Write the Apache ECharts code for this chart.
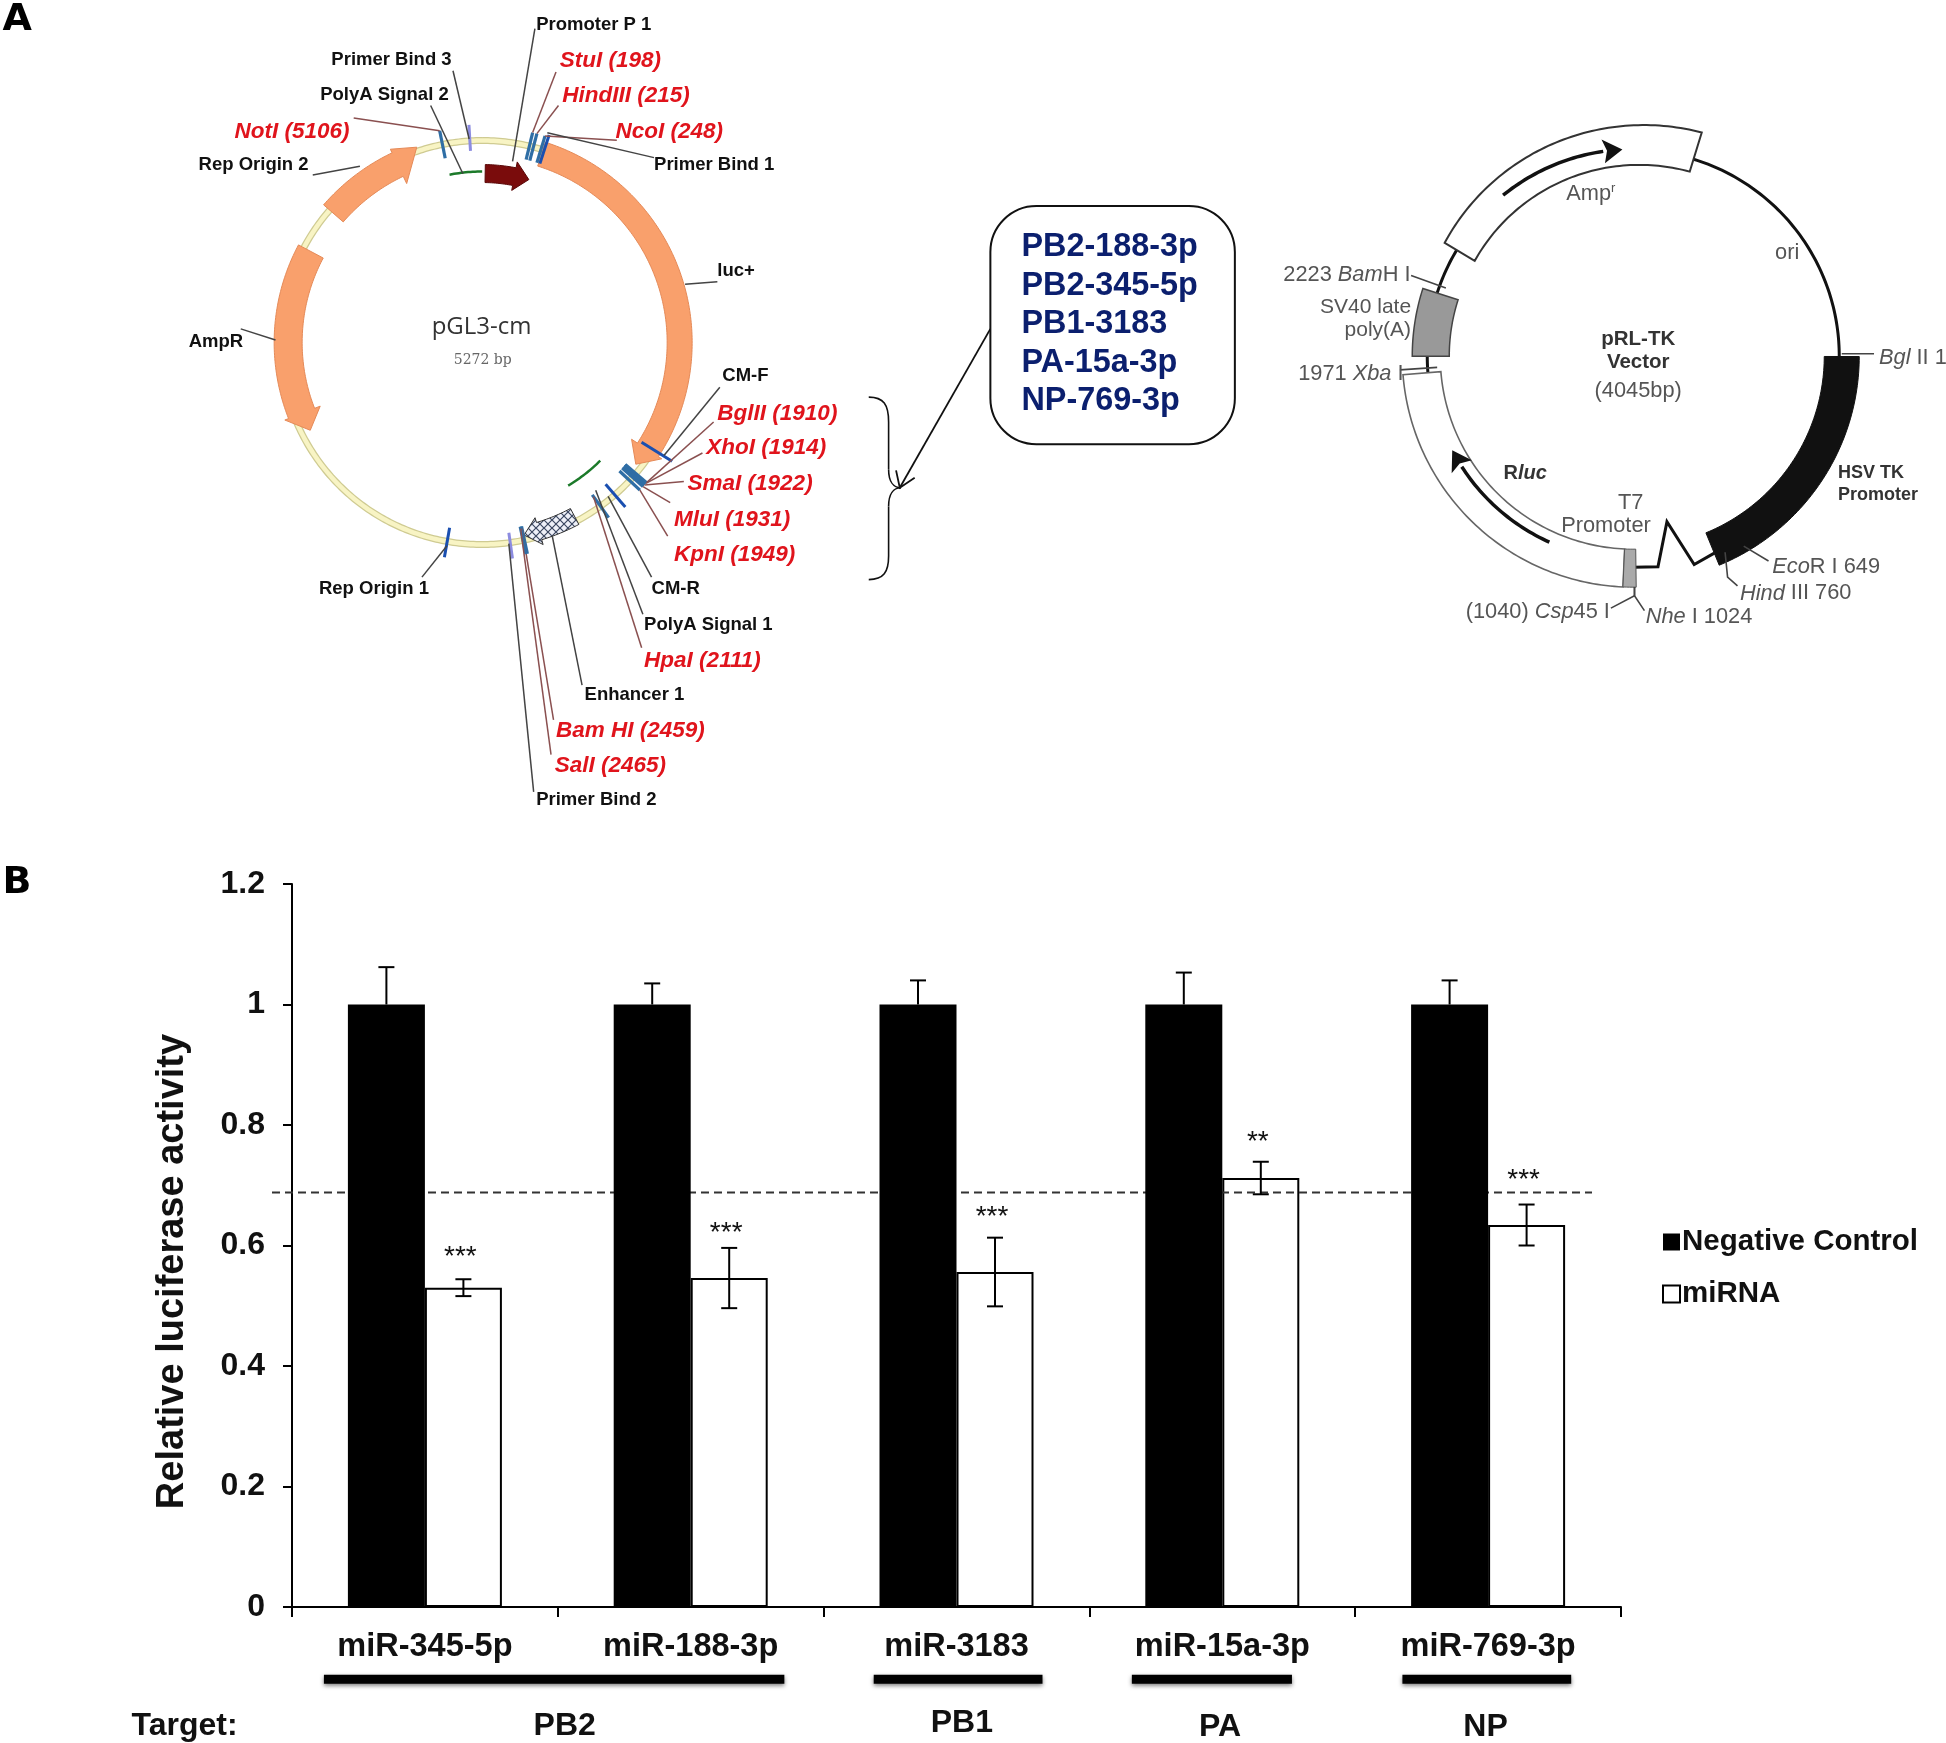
<!DOCTYPE html>
<html><head><meta charset="utf-8">
<script src="https://cdn.jsdelivr.net/npm/echarts@6/dist/echarts.min.js"></script>
<style>html,body{margin:0;background:#fff}#c{width:1946px;height:1743px}</style></head>
<body><div id="c"></div>
<script>
// ---------- Panel B data ----------
const miRNAs = ['miR-345-5p','miR-188-3p','miR-3183','miR-15a-3p','miR-769-3p'];
const controlValues = [1,1,1,1,1];
const controlErrors = [0.062,0.035,0.04,0.053,0.04];
const miRNAValues = [0.53,0.546,0.556,0.712,0.634];
const miRNAErrors = [0.014,0.05,0.057,0.027,0.034];
const significance = ['***','***','***','**','***'];
const significanceLevels = [0.591,0.63,0.657,0.782,0.718];
const thresholdValue = [0.688];
const yTicks = {min:0,max:1.2,interval:0.2};
const targets = ['PB2','PB1','PA','NP'];
// ---------- Panel A data (base pairs) ----------
const pGL3Length = 5272;
const enzymes = ['StuI','HindIII','NcoI','NotI','BglII','XhoI','SmaI','MluI','KpnI','HpaI','BamHI','SalI'];
const enzymeSites = [198,215,248,5106,1910,1914,1922,1931,1949,2111,2459,2465];
const pGL3Ticks = [5221,262,1787,2035,2519,2782];
const lucRange = [256,1800,1880];
const ampRRange = [4364,3640,3558];
const repOri2Range = [4554,4900,5001];
const enhancerRange = [2226,2390,2456];
const promoterRange = [15,161,234];
const greenArcs = [[5111,5272],[1977,2182]];
const pRLLength = 4045;
const pRLHsv = [1,760];
const pRLRluc = [1040,1971];
const pRLSv40 = [2022,2223];
const pRLAmp = [2371,3225];
const pRLBackbone = [[2223,2371],[3225,4045],[1971,2022]];
const pRLLinker = [[213,760],[217,828],[169,882],[212,936],[211,1010]];
const pRLT7 = [1003,1040];
const pRLRlucArrow = [1284,1714];
const pRLAmpArrow = [2596,3000];

// ---------- layout (pixels of the shrunk reference, scaled by p) ----------
const p = v => v*1946/1568;
const FONT = '"Liberation Sans",Arial,sans-serif';
const siteLayout = [
 [451,48,448,58],[453,76,450,85],[496,105,497,113],[189,105,285,95],
 [578,332,575,340],[569,360,566,365],[554,389,551,388],[543,418,540,405],[543,446,538,432],
 [519,531,517,522],[448,588,446,580],[447,616,444,608]];
const siteLabels = ['StuI (198)','HindIII (215)','NcoI (248)','NotI (5106)','BglII (1910)','XhoI (1914)','SmaI (1922)','MluI (1931)','KpnI (1949)','HpaI (2111)','Bam HI (2459)','SalI (2465)'];
const blackLabels = [['Promoter P 1',432,19],['Primer Bind 3',267,47],['PolyA Signal 2',258,75],['Rep Origin 2',160,132],['Primer Bind 1',527,132],['luc+',578,217],['AmpR',152,274],['CM-F',582,302],['CM-R',525,473],['PolyA Signal 1',519,502],['Enhancer 1',471,559],['Primer Bind 2',432,643],['Rep Origin 1',257,473]];
const leaders = [[431,23,413,130],[365,57,378,112],[347,85,373,140],[252,141,290,134],[527,127,441,107],[578,227,552,229],[194,265,222,274],[580,312,535,367],[525,465,490,400],[518,495,480,395],[469,552,445,432],[430,638,410,438],[340,465,360,440]];
const rightLeaders = [[[1137,222],[1165,232]],[[1484,285],[1510,285]],[[1405,440],[1425,452]],[[1390,445],[1392,465],[1400,472]],[[1317,473],[1317,480],[1325,492]],[[1317,473],[1317,480],[1298,490]],[[1128,298],[1158,296]]];
const boxLines = ['PB2-188-3p','PB2-345-5p','PB1-3183','PA-15a-3p','NP-769-3p'];
const boxY = [198,229,260,291,322];
const targetBars = [[261,632],[704,840],[912,1041],[1130,1266]];
const targetX = [455,775,983,1197];
const targetY = [1388,1386,1389,1389];

const g = [];
function T(text,x,y,o){o=o||{};g.push({type:'text',z:50,style:Object.assign({text,x:p(x),y:p(y)+1.5,fill:o.fill||'#000',font:o.font||('bold 18px '+FONT),align:o.align||'left',verticalAlign:'middle'},o.rich?{rich:o.rich}:{})});}
function L(pts,o){o=o||{};g.push({type:'polyline',z:o.z||40,shape:{points:pts.map(q=>[p(q[0]),p(q[1])])},style:{stroke:o.stroke||'#555',lineWidth:o.w||1.5,fill:null}});}
function C(a,b,c,d){g.push({type:'bezierCurve',z:40,shape:{x1:p(a[0]),y1:p(a[1]),cpx1:p(b[0]),cpy1:p(b[1]),cpx2:p(c[0]),cpy2:p(c[1]),x2:p(d[0]),y2:p(d[1])},style:{stroke:'#111',lineWidth:1.6,fill:null}});}

T('A',2,15,{font:'bold 38px "DejaVu Sans"'});
T('B',2,710,{font:'bold 38px "DejaVu Sans"'});
blackLabels.forEach(a=>T(a[0],a[1],a[2],{fill:'#111',font:'bold 18.5px '+FONT}));
leaders.forEach(a=>L([[a[0],a[1]],[a[2],a[3]]],{stroke:'#444'}));
siteLabels.forEach((s,i)=>T(s,siteLayout[i][0],siteLayout[i][1],{fill:'#e0141c',font:'italic bold 22.5px '+FONT}));
T('pGL3-cm',388,262,{align:'center',fill:'#333',font:'24px "Open Sans"'});
T('5272 bp',389,289,{align:'center',fill:'#666',font:'14px "DejaVu Serif"'});
// brace, callout and box
C([700,320],[712,320],[716,326],[716,340]);
L([[716,340],[716,378]],{stroke:'#111',w:1.6});
C([716,378],[716,388],[720,393],[726,393]);
C([726,393],[720,393],[716,398],[716,408]);
L([[716,408],[716,448]],{stroke:'#111',w:1.6});
C([716,448],[716,461],[712,467],[700,467]);
L([[798,265],[725,393]],{stroke:'#111',w:1.8});
L([[722,379],[725,393],[737,385]],{stroke:'#111',w:1.8});
g.push({type:'rect',z:40,shape:{x:p(798),y:p(166),width:p(197),height:p(192),r:46},style:{stroke:'#111',lineWidth:2,fill:'#fff'}});
boxLines.forEach((s,i)=>T(s,823,boxY[i],{fill:'#0b1f6e',font:'bold 32.4px '+FONT}));
// right plasmid text
const GR='#555', rn='21.8px '+FONT, it='italic 21.8px '+FONT;
const rr={i:{font:it,fill:GR},n:{font:rn,fill:GR}};
T('{n|2223 }{i|Bam}{n|H I}',1034,220,{rich:rr});
T('SV40 late',1137,246,{align:'right',fill:GR,font:'21px '+FONT});
T('poly(A)',1137,265,{align:'right',fill:GR,font:'21px '+FONT});
T('{n|1971 }{i|Xba}{n| I}',1046,300,{rich:rr});
T('{n|Amp}{s|r}',1262,155,{rich:{n:{font:rn,fill:GR},s:{font:'13px '+FONT,fill:GR,padding:[0,0,10,0]}}});
T('ori',1440,203,{align:'center',fill:GR,font:rn});
T('pRL-TK',1320,272,{align:'center',fill:'#333',font:'bold 20.5px '+FONT});
T('Vector',1320,291,{align:'center',fill:'#333',font:'bold 20.5px '+FONT});
T('(4045bp)',1320,314,{align:'center',fill:GR,font:rn});
T('{i|Bgl}{n| II 1}',1514,287,{rich:rr});
T('HSV TK',1481,380,{fill:'#333',font:'bold 18px '+FONT});
T('Promoter',1481,398,{fill:'#333',font:'bold 18px '+FONT});
T('{i|Eco}{n|R I 649}',1428,456,{rich:rr});
T('{i|Hind}{n| III 760}',1402,477,{rich:rr});
T('{i|Nhe}{n| I 1024}',1326,496,{rich:rr});
T('{n|(1040) }{i|Csp}{n|45 I}',1181,492,{rich:rr});
T('T7',1314,404,{align:'center',fill:GR,font:rn});
T('Promoter',1294,423,{align:'center',fill:GR,font:rn});
T('{b|R}{c|luc}',1229,380,{align:'center',rich:{b:{font:'bold 20px '+FONT,fill:'#333'},c:{font:'italic bold 20px '+FONT,fill:'#333'}}});
rightLeaders.forEach(a=>L(a,{stroke:'#444',w:1.6}));
// panel B annotations
const B='bold 32px '+FONT;
T('Target:',106,1389.5,{font:B,fill:'#111'});
targets.forEach((s,i)=>T(s,targetX[i],targetY[i]+1.5,{align:'center',font:B,fill:'#111'}));
targetBars.forEach(a=>g.push({type:'rect',z:40,shape:{x:p(a[0]),y:p(1349.5),width:p(a[1]-a[0]),height:9},style:{fill:'#000',shadowBlur:4,shadowColor:'rgba(0,0,0,.5)',shadowOffsetY:2}}));

// ---------- polar helpers ----------
function arc(api,r,a0,a1,r1){const n=Math.max(2,Math.ceil(Math.abs(a1-a0)/12)),o=[];const e=r1===undefined?r:r1;for(let i=0;i<=n;i++)o.push(api.coord([r+(e-r)*i/n,a0+(a1-a0)*i/n]));return o;}
function arrowPts(api,a0,aB,aT,rI,rO,hI,hO,rT){return [].concat(arc(api,rO,a0,aB),[api.coord([hO,aB]),api.coord([rT||(hI+hO)/2,aT]),api.coord([hI,aB])],arc(api,rI,aB,a0));}
function bandPts(api,a0,a1,rI,rO,rI1,rO1){const i1=rI1===undefined?rI:rI1,o1=rO1===undefined?rO:rO1;return [].concat(arc(api,rO,a0,a1,o1),arc(api,i1,a1,a0,rI));}
function polyEl(points,style){return {type:'polygon',shape:{points},style};}
function lineEl(points,stroke,w,dash){return {type:'polyline',shape:{points},style:{stroke,lineWidth:w,fill:null,lineDash:dash}};}
const hatch=(()=>{const c=document.createElement('canvas');c.width=c.height=8;const x=c.getContext('2d');x.fillStyle='#eef0f8';x.fillRect(0,0,8,8);x.strokeStyle='#3a4660';x.lineWidth=1.2;x.beginPath();x.moveTo(0,0);x.lineTo(8,8);x.moveTo(8,0);x.lineTo(0,8);x.stroke();return {image:c,repeat:'repeat'};})();

function leftPlasmid(params,api){
 const ORG={fill:'#f9a06c',stroke:'#e58a58',lineWidth:1};
 const kids=[
  lineEl(arc(api,202,0,5272),'#cfcb92',7),
  lineEl(arc(api,202,0,5272),'#f8f4c4',4.5),
  polyEl(arrowPts(api,lucRange[0],lucRange[1],lucRange[2],185,210,178,214),ORG),
  polyEl(arrowPts(api,ampRRange[0],ampRRange[1],ampRRange[2],180,208,174,212),ORG),
  polyEl(arrowPts(api,repOri2Range[0],repOri2Range[1],repOri2Range[2],184,210,176,214,206),ORG),
  polyEl(arrowPts(api,enhancerRange[0],enhancerRange[1],enhancerRange[2],188,206,183,211),{fill:hatch,stroke:'#333',lineWidth:1}),
  polyEl(arrowPts(api,promoterRange[0],promoterRange[1],promoterRange[2],160,178,155,184),{fill:'#7a0c0c',stroke:'#5a0808',lineWidth:1})
 ];
 greenArcs.forEach((a,i)=>kids.push(lineEl(arc(api,i?167:171,a[0],a[1]),'#1c7a2a',2.5)));
 pGL3Ticks.forEach((a,i)=>kids.push(lineEl([api.coord([i==0||i==4?192:188,a]),api.coord([i==2?224:218,a])],(i==0||i==4)?'#8c8ce0':'#1a4fb0',3)));
 enzymeSites.forEach((a,i)=>{const s=siteLayout[i];
  kids.push(lineEl([api.coord([188,a]),api.coord([216,a])],'#2f6ea5',3.2));
  kids.push(lineEl([api.coord([i>=9?190:216,a]),[p(s[2]),p(s[3])]],'#8a5050',1.5));
 });
 return {type:'group',children:kids};
}
function rightPlasmid(params,api){
 const BOX={fill:'#fff',stroke:'#333',lineWidth:2};
 const kids=[];
 pRLBackbone.forEach(a=>kids.push(lineEl(arc(api,206,a[0],a[1]),'#111',3)));
 kids.push(polyEl(bandPts(api,pRLRluc[0],pRLRluc[1],193,231),{fill:'#fff',stroke:'#666',lineWidth:1.6}));
 kids.push(polyEl(bandPts(api,pRLAmp[0],pRLAmp[1],185,220,193,234),BOX));
 kids.push(polyEl(bandPts(api,pRLSv40[0],pRLSv40[1],184,221),{fill:'#999',stroke:'#444',lineWidth:1.5}));
 kids.push(polyEl(bandPts(api,pRLHsv[0],pRLHsv[1],191,226),{fill:'#111',stroke:'#111',lineWidth:1}));
 kids.push(lineEl(pRLLinker.map(q=>api.coord(q)),'#111',3));
 kids.push(polyEl(bandPts(api,pRLT7[0],pRLT7[1],193,231),{fill:'#aaa',stroke:'#555',lineWidth:1}));
 [[pRLRlucArrow,204],[pRLAmpArrow,207]].forEach(([a,r])=>{
  const d=(a[1]-a[0])>0?1:-1, b=a[1]-d*60;
  kids.push(lineEl(arc(api,r,a[0],b),'#111',3.5));
  kids.push(polyEl([api.coord([r+12,b]),api.coord([r,a[1]]),api.coord([r-12,b]),api.coord([r,b+d*12])],{fill:'#111'}));
 });
 return {type:'group',children:kids};
}
const BW=77;
function errItem(off,lower){return (params,api)=>{
 const i=api.value(0),v=api.value(1),e=api.value(2);
 const c=api.coord([i,v]),t=api.coord([i,v+e]),b=api.coord([i,lower?v-e:v]);
 const x=c[0]+off*BW/2,cap=8;
 const k=[{type:'line',shape:{x1:x,y1:t[1],x2:x,y2:b[1]},style:{stroke:'#000',lineWidth:2}},
  {type:'line',shape:{x1:x-cap,y1:t[1],x2:x+cap,y2:t[1]},style:{stroke:'#000',lineWidth:2}}];
 if(lower)k.push({type:'line',shape:{x1:x-cap,y1:b[1],x2:x+cap,y2:b[1]},style:{stroke:'#000',lineWidth:2}});
 return {type:'group',children:k};
};}

const chart=echarts.init(document.getElementById('c'),null,{renderer:'canvas'});
chart.setOption({
 animation:false,backgroundColor:'#fff',textStyle:{fontFamily:FONT},
 grid:{left:292,top:884,width:1329,height:723,containLabel:false},
 xAxis:{type:'category',data:miRNAs,
  axisLine:{lineStyle:{color:'#000',width:2}},axisTick:{show:true,length:10,lineStyle:{color:'#000',width:2}},
  axisLabel:{color:'#111',fontWeight:'bold',fontSize:32.5,margin:24,fontFamily:FONT}},
 yAxis:{type:'value',min:yTicks.min,max:yTicks.max,interval:yTicks.interval,
  name:'Relative luciferase activity',nameLocation:'middle',nameGap:100,nameRotate:90,
  nameTextStyle:{color:'#111',fontWeight:'bold',fontSize:38,fontFamily:FONT,padding:[0,52,0,0]},
  axisLine:{show:true,lineStyle:{color:'#000',width:2}},axisTick:{show:true,length:9,lineStyle:{color:'#000',width:2}},
  splitLine:{show:false},axisLabel:{color:'#111',fontWeight:'bold',fontSize:32,margin:27,fontFamily:FONT,formatter:v=>String(+v.toFixed(1))}},
 polar:[{center:[p(388.5),p(276)],radius:260},{center:[p(1316),p(287)],radius:260}],
 radiusAxis:[{polarIndex:0,min:0,max:260,show:false},{polarIndex:1,min:0,max:260,show:false}],
 angleAxis:[{polarIndex:0,min:0,max:pGL3Length,startAngle:90,clockwise:true,show:false},
            {polarIndex:1,min:0,max:pRLLength,startAngle:0,clockwise:true,show:false}],
 legend:{orient:'vertical',left:1657,top:1222,itemWidth:17,itemHeight:17,itemGap:22,icon:'rect',
  data:['Negative Control','miRNA'],selectedMode:false,
  textStyle:{color:'#111',fontWeight:'bold',fontSize:29.5,fontFamily:FONT,padding:[0,0,0,-3]}},
 series:[
  {type:'bar',name:'Negative Control',data:controlValues,barWidth:BW,barGap:'0%',z:4,itemStyle:{color:'#000'}},
  {type:'bar',name:'miRNA',data:miRNAValues,barWidth:BW,barGap:'0%',z:2,itemStyle:{color:'#fff',borderColor:'#000',borderWidth:2}},
  {type:'custom',name:'threshold',z:3,silent:true,data:thresholdValue.map(v=>[0,v]),encode:{x:0,y:1},
   renderItem:(params,api)=>{const y=api.coord([0,api.value(1)])[1];const cs=params.coordSys;
    return {type:'line',shape:{x1:cs.x-20,y1:y,x2:cs.x+cs.width-29,y2:y},style:{stroke:'#333',lineWidth:2,lineDash:[8,5]}};}},
  {type:'custom',name:'ctrlErr',z:5,silent:true,data:controlValues.map((v,i)=>[i,v,controlErrors[i]]),encode:{x:0,y:1},renderItem:errItem(-1,false)},
  {type:'custom',name:'mirErr',z:5,silent:true,data:miRNAValues.map((v,i)=>[i,v,miRNAErrors[i]]),encode:{x:0,y:1},renderItem:errItem(1,true)},
  {type:'custom',name:'stars',z:6,silent:true,data:significanceLevels.map((v,i)=>[i,v]),encode:{x:0,y:1},
   renderItem:(params,api)=>{const c=api.coord([api.value(0),api.value(1)]);
    return {type:'text',style:{text:significance[params.dataIndex],x:c[0]+BW/2-3,y:c[1]+6,align:'center',verticalAlign:'middle',font:'28px '+FONT,fill:'#111'}};}},
  {type:'custom',name:'pGL3-cm',coordinateSystem:'polar',polarIndex:0,silent:true,clip:false,z:10,data:[[202,0]],encode:{radius:0,angle:1},renderItem:leftPlasmid},
  {type:'custom',name:'pRL-TK',coordinateSystem:'polar',polarIndex:1,silent:true,clip:false,z:10,data:[[206,0]],encode:{radius:0,angle:1},renderItem:rightPlasmid}
 ],
 graphic:g
});
</script></body></html>
